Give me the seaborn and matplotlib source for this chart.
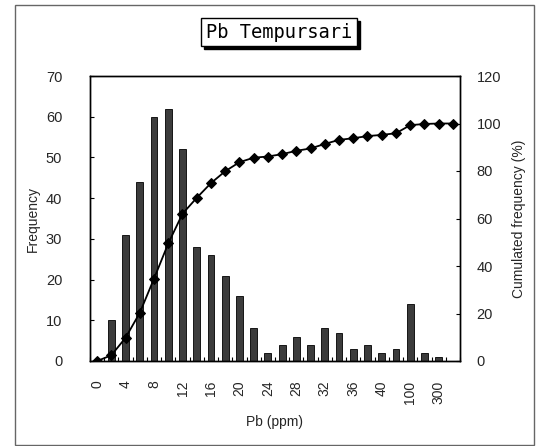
import matplotlib
matplotlib.use("Agg")
import matplotlib.pyplot as plt
import seaborn as sns
import pandas as pd
import numpy as np
from matplotlib.patches import Rectangle

# ---- data ----
categories = ["0", "2", "4", "6", "8", "10", "12", "14", "16", "18", "20", "22", "24",
              "26", "28", "30", "32", "34", "36", "38", "40", "50", "100", "200", "300", "400"]
frequency = [0, 10, 31, 44, 60, 62, 52, 28, 26, 21, 16, 8, 2,
             4, 6, 4, 8, 7, 3, 4, 2, 3, 14, 2, 1, 0]
cumulated = [0, 2.4, 9.8, 20.3, 34.7, 49.5, 62.0, 68.7, 74.9, 79.9, 83.7, 85.6, 86.1,
             87.1, 88.5, 89.5, 91.4, 93.1, 93.8, 94.7, 95.2, 95.9, 99.3, 99.8, 100, 100]

sns.set_theme(style="white")
plt.rcParams['font.family'] = ['Liberation Sans', 'DejaVu Sans']

fig = plt.figure(figsize=(5.36, 4.46), dpi=100)
ax = fig.add_axes([90/536, 1-361/446, 370/536, 285/446])

df = pd.DataFrame({"cat": categories, "freq": frequency})
sns.barplot(data=df, x="cat", y="freq", order=categories, ax=ax,
            color="#3c3c3c", edgecolor="black", linewidth=0.6, width=0.48,
            saturation=1)

ax2 = ax.twinx()
pos = np.arange(len(categories))
sns.lineplot(x=pos, y=cumulated, ax=ax2, color="black", marker="D",
             markersize=5, markeredgecolor="black", linewidth=1.3)

ax.set_xlim(-0.5, len(categories) - 0.5)
ax.set_ylim(0, 70)
ax2.set_ylim(0, 120)
ax.set_yticks(range(0, 71, 10))
ax2.set_yticks(range(0, 121, 20))

ax.set_xticks(pos)
ax.set_xticklabels([c if i % 2 == 0 else "" for i, c in enumerate(categories)],
                   rotation=90, fontsize=10)
ax.set_xticks(np.arange(-0.5, len(categories), 1), minor=True)
ax.tick_params(axis="x", which="major", length=0, pad=14)
ax.tick_params(axis="x", which="minor", direction="in", length=3, width=0.8,
               color="black", bottom=True)
ax.tick_params(axis="y", direction="in", length=3, width=0.8, color="black",
               labelsize=10.5, pad=20, left=True)
ax2.tick_params(axis="y", direction="in", length=3, width=0.8, color="black",
                labelsize=10.5, pad=12, right=True)

for a in (ax, ax2):
    for s in a.spines.values():
        s.set_color("black")
        s.set_linewidth(1.0)

ax.set_xlabel("Pb (ppm)", fontsize=10, labelpad=8)
ax.set_ylabel("Frequency", fontsize=10, labelpad=4)
ax2.set_ylabel("Cumulated frequency (%)", fontsize=10, labelpad=8)

# title box with shadow
tx, ty = 279/536, 1-32/446
title = fig.text(tx, ty, "Pb Tempursari", ha="center", va="center",
                 fontsize=13.5, family="DejaVu Sans Mono", color="black", zorder=5,
                 bbox=dict(boxstyle="square,pad=0.25", facecolor="white",
                           edgecolor="black", lw=1))
fig.canvas.draw()
bb = title.get_bbox_patch().get_window_extent().transformed(fig.transFigure.inverted())
fig.patches.append(Rectangle((bb.x0 + 3/536, bb.y0 - 3/446), bb.width, bb.height,
                             transform=fig.transFigure, facecolor="black",
                             edgecolor="black", zorder=1))

# outer frame
fig.patches.append(Rectangle((15/536, 1/446), 519/536, 440/446, transform=fig.transFigure,
                             fill=False, edgecolor="#666666", lw=1))

fig.savefig("out.png", dpi=100)
